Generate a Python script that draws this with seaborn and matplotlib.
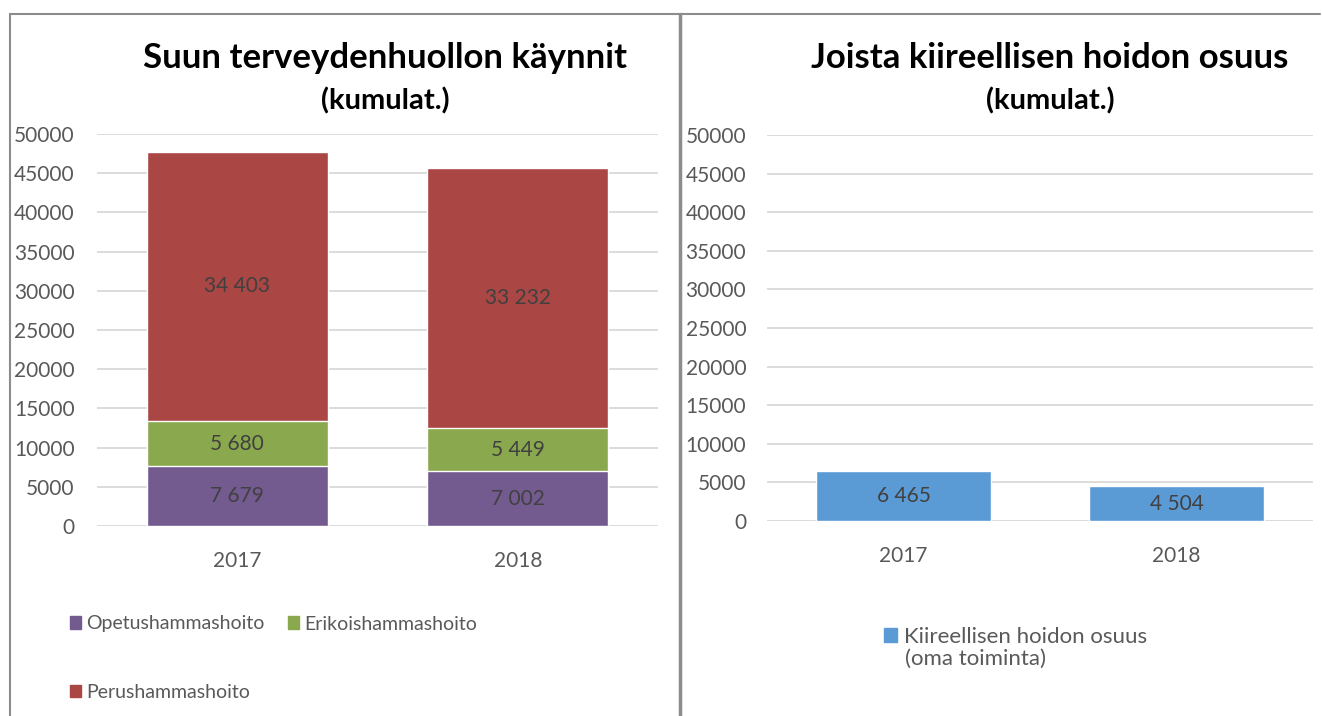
import numpy as np
import pandas as pd
import matplotlib.pyplot as plt
import seaborn as sns
from matplotlib.lines import Line2D
from matplotlib.patches import Patch

years = ['2017', '2018']
opetus = [7679, 7002]
erikois = [5680, 5449]
perus = [34403, 33232]
kiire = [6465, 4504]

c_opetus = '#735A8F'
c_erikois = '#8AA84D'
c_perus = '#AA4644'
c_kiire = '#5B9BD5'
grey_txt = '#595959'
lbl_txt = '#404040'

sns.set_style('white')
plt.rcParams['font.family'] = ['Lato', 'DejaVu Sans']

fig = plt.figure(figsize=(13.22, 7.16), dpi=100)
W, H = 1322, 716

def fx(px):
    return px / W

def fy(px):
    return 1 - px / H

ax1 = fig.add_axes([fx(97), fy(526), fx(658) - fx(97), fy(134) - fy(526)])
ax2 = fig.add_axes([fx(767), fy(521), fx(1313) - fx(767), fy(135) - fy(521)])

df = pd.DataFrame({'year': years, 'opetus': opetus, 'erikois': erikois, 'perus': perus, 'kiire': kiire})
df['s2'] = df['opetus'] + df['erikois']
df['s3'] = df['s2'] + df['perus']

# stacked bars by overlapping cumulative sums
sns.barplot(data=df, x='year', y='s3', color=c_perus, saturation=1, width=0.645, ax=ax1)
sns.barplot(data=df, x='year', y='s2', color=c_erikois, saturation=1, width=0.645, ax=ax1)
sns.barplot(data=df, x='year', y='opetus', color=c_opetus, saturation=1, width=0.645, ax=ax1)
sns.barplot(data=df, x='year', y='kiire', color=c_kiire, saturation=1, width=0.64, ax=ax2)

def fmt(v):
    return f'{v:,}'.replace(',', ' ')

for i in range(len(years)):
    ax1.text(i, opetus[i] / 2, fmt(opetus[i]), ha='center', va='center', fontsize=15, color=lbl_txt)
    ax1.text(i, opetus[i] + erikois[i] / 2, fmt(erikois[i]), ha='center', va='center', fontsize=15, color=lbl_txt)
    ax1.text(i, opetus[i] + erikois[i] + perus[i] / 2, fmt(perus[i]), ha='center', va='center', fontsize=15, color=lbl_txt)
    ax2.text(i, kiire[i] / 2, fmt(kiire[i]), ha='center', va='center', fontsize=15, color=lbl_txt)

for ax, ypad in ((ax1, 16), (ax2, 15)):
    ax.set_ylim(0, 50000)
    ax.set_xlim(-0.5, 1.5)
    ax.set_yticks(np.arange(0, 50001, 5000))
    ax.set_yticklabels([str(v) for v in range(0, 50001, 5000)])
    ax.yaxis.grid(True, color='#D9D9D9', lw=1.3)
    ax.set_axisbelow(True)
    for s in ax.spines.values():
        s.set_visible(False)
    ax.tick_params(axis='both', length=0, labelsize=15, colors=grey_txt)
    ax.tick_params(axis='x', pad=18)
    ax.tick_params(axis='y', pad=ypad)
    ax.set_xlabel('')
    ax.set_ylabel('')

# titles
fig.text(fx(385), fy(58), 'Suun terveydenhuollon käynnit', ha='center', va='center',
         fontsize=25, fontweight='bold', color='black')
fig.text(fx(385), fy(101), '(kumulat.)', ha='center', va='center',
         fontsize=21, fontweight='bold', color='black')
fig.text(fx(1050), fy(58), 'Joista kiireellisen hoidon osuus', ha='center', va='center',
         fontsize=25, fontweight='bold', color='black')
fig.text(fx(1050), fy(101), '(kumulat.)', ha='center', va='center',
         fontsize=21, fontweight='bold', color='black')

# legends (column-major fill: Opetus, Perus in col 1; Erikois in col 2)
h1 = [Patch(color=c_opetus, label='Opetushammashoito'),
      Patch(color=c_perus, label='Perushammashoito'),
      Patch(color=c_erikois, label='Erikoishammashoito')]
leg1 = fig.legend(handles=h1, ncol=2, loc='upper left', bbox_to_anchor=(fx(52), fy(598)),
                  frameon=False, fontsize=14, handlelength=0.6, handleheight=0.6,
                  handletextpad=0.25, columnspacing=1.2, labelspacing=2.65, labelcolor=grey_txt)

h2 = [Patch(color=c_kiire, label='Kiireellisen hoidon osuus')]
leg2 = fig.legend(handles=h2, loc='upper left', bbox_to_anchor=(fx(864), fy(607)),
                  frameon=False, fontsize=16, handlelength=0.6, handleheight=0.6,
                  handletextpad=0.3, labelcolor=grey_txt)
fig.text(fx(905), fy(659), '(oma toiminta)', ha='left', va='center', fontsize=16, color=grey_txt)

# panel borders
bc = '#8C8C8C'
fig.add_artist(Line2D([fx(10), fx(10)], [fy(14), 0], color=bc, lw=1.5))
fig.add_artist(Line2D([fx(10), fx(1320)], [fy(14), fy(14)], color=bc, lw=1.5))
fig.add_artist(Line2D([fx(680), fx(680)], [fy(14), 0], color=bc, lw=2.5))

fig.savefig('out.png', dpi=100, facecolor='white')
